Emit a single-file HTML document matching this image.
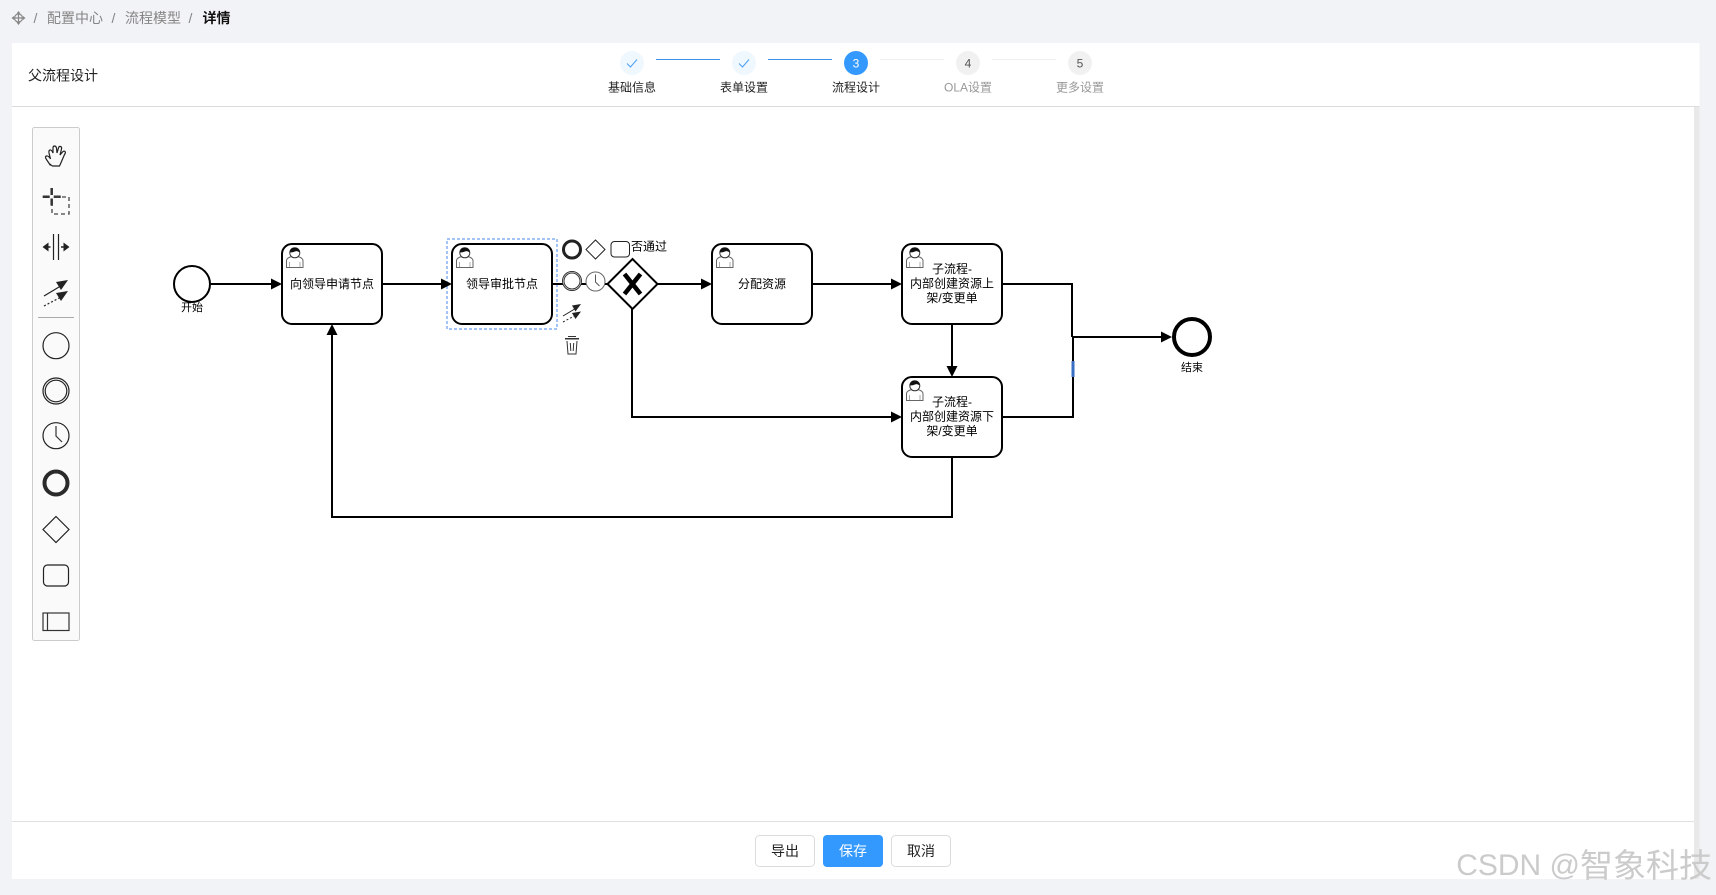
<!DOCTYPE html>
<html lang="zh"><head><meta charset="utf-8"><title>父流程设计</title>
<style>
html,body{margin:0;padding:0;width:1716px;height:895px;overflow:hidden;background:#f2f3f7}
svg{display:block;position:absolute;left:0;top:0}
text{font-family:"Liberation Sans","Noto Sans CJK SC",sans-serif;dominant-baseline:central;text-anchor:middle}
.s{font-size:12px}
.l{font-size:11px}
</style></head><body>
<svg width="1716" height="895" viewBox="0 0 1716 895" xmlns="http://www.w3.org/2000/svg">
<defs>
<g id="user">
<path d="M1.500 20.500V13.500Q2 10.500 7 9.500L12.500 9.500Q17.500 10.500 18 13.500V20.500Z" fill="#fff" stroke="#666" stroke-width="1"/>
<path d="M4.500 20V15M15 20V15" stroke="#999" stroke-width=".8"/>
<circle cx="9.800" cy="5.800" r="5" fill="#fff" stroke="#333" stroke-width="1"/>
<path d="M4.800 5.500Q4.800 .6 9.800 .8T14.800 5.500Q12 3.500 10 4.500T4.800 5.500Z" fill="#111"/>
</g>
<path id="arrowR" d="M0 0L-11-5.500V5.500Z" fill="#000"/>
</defs>

<!-- breadcrumb -->
<g stroke="#888" fill="none" stroke-width="1.200"><circle cx="18.500" cy="18" r="4"/><path d="M18.500 12.500V23.500M13 18H24"/></g>
<path d="M18.500 11l2 2.500h-4zM18.500 25l2-2.500h-4zM11.500 18l2.500-2v4zM25.500 18l-2.500-2v4z" fill="#888"/>
<g font-size="14" fill="#858585">
<text x="35.500" y="18">/</text><text x="75" y="18">配置中心</text>
<text x="113.500" y="18">/</text><text x="153" y="18">流程模型</text>
<text x="190.500" y="18">/</text></g>
<text x="216.500" y="18" font-size="14" font-weight="700" fill="#111">详情</text>

<!-- card -->
<rect x="12" y="43" width="1687.500" height="836" fill="#fff"/>
<rect x="12" y="106" width="1687.500" height="1" fill="#dcdcdc"/>
<rect x="1694" y="107" width="5.500" height="772" fill="#e9e9ea"/>
<rect x="12" y="821" width="1682" height="1" fill="#dfdfdf"/>
<text x="63" y="75.500" font-size="14" fill="#222">父流程设计</text>

<!-- steps -->
<g stroke-width="1">
<rect x="656" y="59" width="64" height="1" fill="#3a92ec"/><rect x="768" y="59" width="64" height="1" fill="#3a92ec"/>
<rect x="880" y="59" width="64" height="1" fill="#eee"/><rect x="992" y="59" width="64" height="1" fill="#eee"/></g>
<circle cx="632" cy="63" r="12" fill="#eff8ff"/><circle cx="744" cy="63" r="12" fill="#eff8ff"/>
<path d="M627 63.500l3.500 3.500 6.500-7.500M739 63.500l3.500 3.500 6.500-7.500" fill="none" stroke="#4a9df0" stroke-width="1"/>
<circle cx="856" cy="63" r="12" fill="#3399ff"/><circle cx="968" cy="63" r="12" fill="#f1f1f1"/><circle cx="1080" cy="63" r="12" fill="#f1f1f1"/>
<g font-size="12"><text x="856" y="63.500" fill="#fff">3</text><text x="968" y="63.500" fill="#555">4</text><text x="1080" y="63.500" fill="#555">5</text>
<text x="632" y="87.500" fill="#222">基础信息</text><text x="744" y="87.500" fill="#222">表单设置</text><text x="856" y="87.500" fill="#222">流程设计</text>
<text x="968" y="87.500" fill="#999">OLA设置</text><text x="1080" y="87.500" fill="#999">更多设置</text></g>

<!-- palette -->
<rect x="32.500" y="127.500" width="47" height="513" rx="2" fill="#fafafa" stroke="#ccc"/>
<g fill="none" stroke="#222" stroke-width="1.200" transform="translate(1.500 3.500)">
<path d="M49 162l-4-6q-2-3 0-3.500t4 3l-1.500-6q-.5-2.500 1-3t3 3l0-5q0-2 1.500-2t2 2l.5 5 1.500-5q.5-2 2-1.500t1 2.500l-1.500 6 2.500-3q1.500-1.500 2.500-.5t-.5 3l-3 7q-1 2.500-2 4.500h-7q-1.500-1-2.500-2z"/>
</g>
<path d="M42.700 196.700h7M53.700 196.700h7M51.700 188v7M51.700 198.500v7" stroke="#333" stroke-width="2.500" fill="none"/>
<path d="M55 197h14v17H52v-9" fill="none" stroke="#444" stroke-width="1.300" stroke-dasharray="4 3"/>
<path d="M53.500 234v26M58.500 234v26" stroke="#222" stroke-width="1.200"/>
<path d="M50.500 247h-3M61 247h4" stroke="#222" stroke-width="1.500"/>
<path d="M42.500 247l6-4.500v9zM69.500 247l-6-4.500v9z" fill="#222"/>
<path d="M44 296l20-12" stroke="#222" stroke-width="1.200"/><path d="M68 280l-12 2 5 8z" fill="#222"/>
<path d="M44 306l19-10" stroke="#222" stroke-width="1.200" stroke-dasharray="2 2"/><path d="M68 291l-12 2 5 8z" fill="#222"/>
<rect x="38" y="317" width="36" height="1" fill="#aaa"/>
<circle cx="56" cy="345.700" r="13" fill="none" stroke="#222" stroke-width="1.200"/>
<circle cx="56" cy="391" r="13" fill="none" stroke="#222" stroke-width="1.200"/><circle cx="56" cy="391" r="10.800" fill="none" stroke="#222" stroke-width="1.200"/>
<circle cx="56" cy="435.700" r="13" fill="none" stroke="#222" stroke-width="1.200"/><path d="M56 426v10l6 6" fill="none" stroke="#333" stroke-width="1.200"/>
<circle cx="56" cy="483" r="11.500" fill="none" stroke="#2a2a2a" stroke-width="4"/>
<path d="M56 516.500l13 13-13 13-13-13z" fill="none" stroke="#222" stroke-width="1.200"/>
<rect x="43.500" y="565" width="25" height="21" rx="4" fill="none" stroke="#222" stroke-width="1.200"/>
<rect x="43" y="613" width="26" height="17.500" fill="none" stroke="#333" stroke-width="1.200"/><path d="M47.500 613v17.500" stroke="#333" stroke-width="1.200"/>

<!-- selection -->
<rect x="447" y="239" width="110" height="90" fill="none" stroke="#a3c4f7" stroke-width="2" stroke-dasharray="3 2"/>

<!-- connectors -->
<g fill="none" stroke="#000" stroke-width="2">
<path d="M211 284H272M382 284H442M552 284H607M657 284H702M812 284H892"/>
<path d="M632 309V417H892"/>
<path d="M952 324V367"/>
<path d="M952 457V517H332V334"/>
<path d="M1002 284H1072V337M1002 417H1073V337M1072 337H1162"/>
</g>
<use href="#arrowR" transform="translate(282 284)"/><use href="#arrowR" transform="translate(452 284)"/>
<use href="#arrowR" transform="translate(712 284)"/><use href="#arrowR" transform="translate(902 284)"/>
<use href="#arrowR" transform="translate(902 417)"/><use href="#arrowR" transform="translate(1172 337)"/>
<use href="#arrowR" transform="translate(952 377) rotate(90)"/><use href="#arrowR" transform="translate(332 324) rotate(-90)"/>
<rect x="1071.500" y="361" width="3" height="16" fill="#3a6fc4"/>

<!-- events -->
<circle cx="192" cy="284" r="18" fill="#fff" stroke="#000" stroke-width="2"/>
<text class="l" x="192" y="308">开始</text>
<circle cx="1192" cy="337" r="18" fill="#fff" stroke="#000" stroke-width="4"/>
<text class="l" x="1192" y="368">结束</text>

<!-- tasks -->
<g fill="#fff" stroke="#000" stroke-width="2">
<rect x="282" y="244" width="100" height="80" rx="10"/>
<rect x="452" y="244" width="100" height="80" rx="10"/>
<rect x="712" y="244" width="100" height="80" rx="10"/>
<rect x="902" y="244" width="100" height="80" rx="10"/>
<rect x="902" y="377" width="100" height="80" rx="10"/>
</g>
<use href="#user" transform="translate(285 247)"/><use href="#user" transform="translate(455 247)"/>
<use href="#user" transform="translate(715 247)"/><use href="#user" transform="translate(905 247)"/><use href="#user" transform="translate(905 380)"/>
<g fill="#000">
<text class="s" x="332" y="284">向领导申请节点</text>
<text class="s" x="502" y="284">领导审批节点</text>
<text class="s" x="762" y="284">分配资源</text>
<text class="s" x="952" y="269">子流程-</text><text class="s" x="952" y="283.500">内部创建资源上</text><text class="s" x="952" y="298">架/变更单</text>
<text class="s" x="952" y="402">子流程-</text><text class="s" x="952" y="416.500">内部创建资源下</text><text class="s" x="952" y="431">架/变更单</text>
</g>

<!-- gateway -->
<path d="M632.500 259l25 25-25 25-25-25z" fill="#fff" stroke="#000" stroke-width="2"/>
<path d="M624.500 274L640.500 294M640.500 274L624.500 294" stroke="#000" stroke-width="4.500" fill="none"/>

<!-- context pad -->
<circle cx="572" cy="249.500" r="8.500" fill="none" stroke="#222" stroke-width="3"/>
<path d="M595.500 240l9.500 9.500-9.500 9.500-9.500-9.500z" fill="#fff" stroke="#222" stroke-width="1"/>
<rect x="611" y="241.500" width="18.500" height="15.500" rx="3.500" fill="#fff" stroke="#222" stroke-width="1"/>
<text class="s" x="649" y="246.500">否通过</text>
<circle cx="572" cy="281" r="9.500" fill="#fff" stroke="#333" stroke-width="1"/><circle cx="572" cy="281" r="8" fill="none" stroke="#333" stroke-width="1"/>
<circle cx="595.500" cy="281.500" r="9.500" fill="#fff" stroke="#666" stroke-width="1"/><path d="M595.500 274.500v7.500l4 4" fill="none" stroke="#555" stroke-width="1"/>
<path d="M563 316l15-9" stroke="#222" stroke-width="1"/><path d="M581 304l-9 1.500 3.500 6z" fill="#222"/>
<path d="M563 322l15-8" stroke="#222" stroke-width="1" stroke-dasharray="2 2"/><path d="M581 311.500l-9 1.500 3.500 6z" fill="#222"/>
<g fill="none" stroke="#333" stroke-width="1"><path d="M565.500 339h13M568 336.500h8M567 341l1 13h8l1-13"/><path d="M570.300 343l.5 8M573.700 343l-.5 8"/></g>
<rect x="565" y="338" width="14" height="1.500" fill="#333"/>

<!-- footer buttons -->
<rect x="755.500" y="835.500" width="59" height="31" rx="4" fill="#fff" stroke="#dcdcdc"/>
<rect x="823" y="835" width="60" height="32" rx="4" fill="#3399ff"/>
<rect x="891.500" y="835.500" width="59" height="31" rx="4" fill="#fff" stroke="#dcdcdc"/>
<g font-size="14"><text x="785" y="851" fill="#222">导出</text><text x="853" y="851" fill="#fff">保存</text><text x="921" y="851" fill="#222">取消</text></g>

<!-- watermark -->
<text x="1712" y="865" fill="#cbcbcb" style="text-anchor:end"><tspan font-size="30">CSDN @</tspan><tspan font-size="33">智象科技</tspan></text>
</svg>
</body></html>
